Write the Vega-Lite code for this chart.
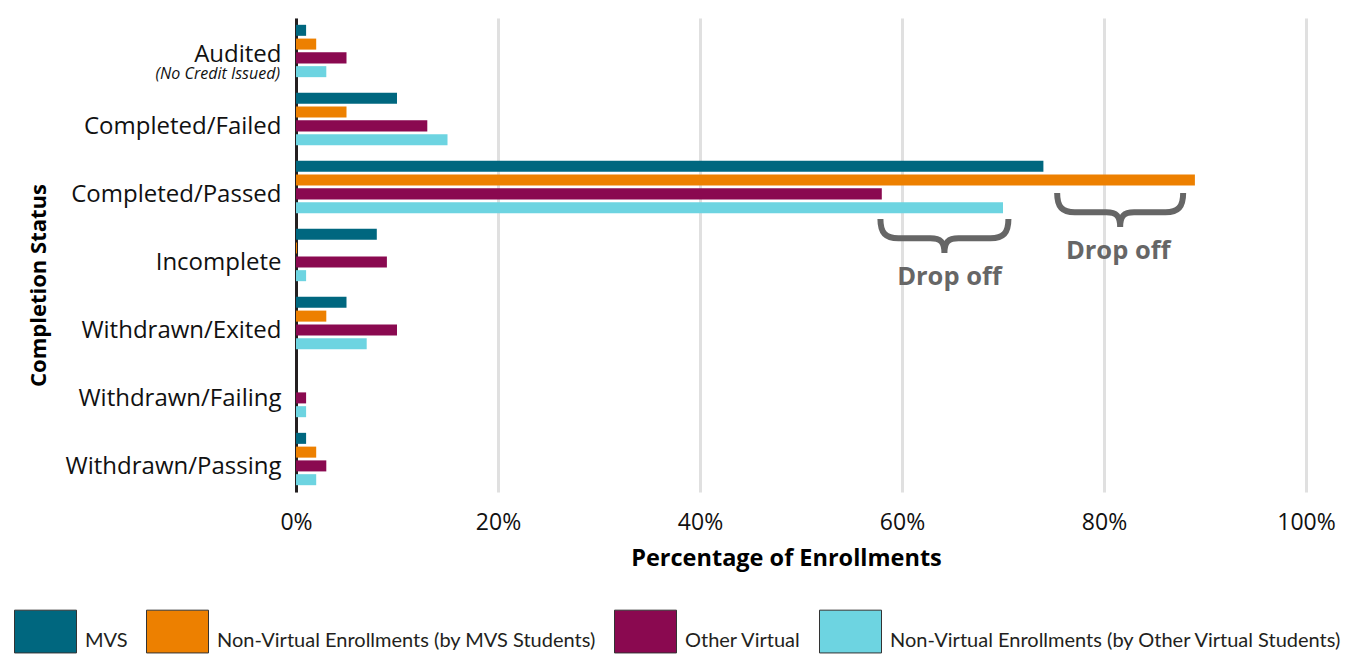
{
  "$schema": "https://vega.github.io/schema/vega-lite/v6.json",
  "width": 1010,
  "height": 474,
  "autosize": {"type": "none"},
  "padding": {"left": 296, "top": 18, "right": 45, "bottom": 163},
  "background": "white",
  "config": {
    "font": "Open Sans",
    "view": {"stroke": null}
  },
  "datasets": {
    "bars": [
      {"status": "Audited", "series": "MVS", "value": 1},
      {"status": "Audited", "series": "Non-Virtual Enrollments (by MVS Students)", "value": 2},
      {"status": "Audited", "series": "Other Virtual", "value": 5},
      {"status": "Audited", "series": "Non-Virtual Enrollments (by Other Virtual Students)", "value": 3},
      {"status": "Completed/Failed", "series": "MVS", "value": 10},
      {"status": "Completed/Failed", "series": "Non-Virtual Enrollments (by MVS Students)", "value": 5},
      {"status": "Completed/Failed", "series": "Other Virtual", "value": 13},
      {"status": "Completed/Failed", "series": "Non-Virtual Enrollments (by Other Virtual Students)", "value": 15},
      {"status": "Completed/Passed", "series": "MVS", "value": 74},
      {"status": "Completed/Passed", "series": "Non-Virtual Enrollments (by MVS Students)", "value": 89},
      {"status": "Completed/Passed", "series": "Other Virtual", "value": 58},
      {"status": "Completed/Passed", "series": "Non-Virtual Enrollments (by Other Virtual Students)", "value": 70},
      {"status": "Incomplete", "series": "MVS", "value": 8},
      {"status": "Incomplete", "series": "Non-Virtual Enrollments (by MVS Students)", "value": 0.1},
      {"status": "Incomplete", "series": "Other Virtual", "value": 9},
      {"status": "Incomplete", "series": "Non-Virtual Enrollments (by Other Virtual Students)", "value": 1},
      {"status": "Withdrawn/Exited", "series": "MVS", "value": 5},
      {"status": "Withdrawn/Exited", "series": "Non-Virtual Enrollments (by MVS Students)", "value": 3},
      {"status": "Withdrawn/Exited", "series": "Other Virtual", "value": 10},
      {"status": "Withdrawn/Exited", "series": "Non-Virtual Enrollments (by Other Virtual Students)", "value": 7},
      {"status": "Withdrawn/Failing", "series": "MVS", "value": 0},
      {"status": "Withdrawn/Failing", "series": "Non-Virtual Enrollments (by MVS Students)", "value": 0},
      {"status": "Withdrawn/Failing", "series": "Other Virtual", "value": 1},
      {"status": "Withdrawn/Failing", "series": "Non-Virtual Enrollments (by Other Virtual Students)", "value": 1},
      {"status": "Withdrawn/Passing", "series": "MVS", "value": 1},
      {"status": "Withdrawn/Passing", "series": "Non-Virtual Enrollments (by MVS Students)", "value": 2},
      {"status": "Withdrawn/Passing", "series": "Other Virtual", "value": 3},
      {"status": "Withdrawn/Passing", "series": "Non-Virtual Enrollments (by Other Virtual Students)", "value": 2}
    ],
    "notes": [
      {"status": "Completed/Passed", "pos": 64.2, "id": "a", "note": "Drop off"},
      {"status": "Completed/Passed", "pos": 81.6, "id": "b", "note": "Drop off"}
    ],
    "sub": [
      {"status": "Audited", "pos": 0, "note": "(No Credit Issued)"}
    ]
  },
  "layer": [
    {
      "data": {"name": "bars"},
      "mark": {"type": "bar"},
      "encoding": {
        "y": {
          "field": "status", "type": "nominal",
          "scale": {
            "domain": ["Audited", "Completed/Failed", "Completed/Passed", "Incomplete", "Withdrawn/Exited", "Withdrawn/Failing", "Withdrawn/Passing"],
            "paddingInner": 0.23, "paddingOuter": 0.1
          },
          "axis": {
            "title": "Completion Status",
            "titleFontSize": 22, "titleFontWeight": "bold", "titleColor": "#000",
            "titleX": -258, "titleY": 267, "titleAngle": -90, "titleAlign": "center", "titleBaseline": "middle",
            "labelFontSize": 24, "labelColor": "#111", "labelPadding": 15,
            "labelOffset": {"condition": {"test": "datum.value === 'Audited'", "value": 4}, "value": 8},
            "ticks": false, "domainColor": "#231f20", "domainWidth": 3, "labelLimit": 300, "grid": false
          }
        },
        "yOffset": {
          "field": "series", "type": "nominal",
          "scale": {
            "domain": ["MVS", "Non-Virtual Enrollments (by MVS Students)", "Other Virtual", "Non-Virtual Enrollments (by Other Virtual Students)"],
            "paddingInner": 0.2, "paddingOuter": 0
          }
        },
        "x": {
          "field": "value", "type": "quantitative",
          "scale": {"domain": [0, 100], "nice": false},
          "axis": {
            "values": [0, 20, 40, 60, 80, 100],
            "labelExpr": "datum.value + '%'",
            "grid": true, "gridColor": "#e0e0e0", "gridWidth": 3,
            "domain": false, "ticks": false,
            "labelFontSize": 23, "labelColor": "#111", "labelPadding": 19, "labelFlush": false,
            "title": "Percentage of Enrollments", "titleFontSize": 23.5, "titleFontWeight": "bold", "titleColor": "#000",
            "titlePadding": 12, "titleX": 490
          }
        },
        "color": {
          "field": "series", "type": "nominal",
          "scale": {
            "domain": ["MVS", "Non-Virtual Enrollments (by MVS Students)", "Other Virtual", "Non-Virtual Enrollments (by Other Virtual Students)"],
            "range": ["#00677F", "#ED8000", "#8A0950", "#6DD4E1"]
          },
          "legend": {
            "orient": "none", "legendX": -282, "legendY": 591,
            "direction": "horizontal", "columns": 4, "title": null,
            "symbolType": "M-1,-0.98H1V0.4H-1Z", "symbolSize": 3844,
            "symbolStrokeColor": "#333", "symbolStrokeWidth": 1, "symbolOpacity": 1,
            "labelFontSize": 20, "labelFont": "Lato", "labelColor": "#231f20",
            "labelOffset": 8, "columnPadding": 16, "padding": 0, "labelLimit": 600,
            "encode": {"symbols": {"update": {"stroke": {"value": "#333"}, "strokeWidth": {"value": 1}}}}
          }
        }
      }
    },
    {
      "data": {"name": "notes"},
      "transform": [{"filter": "datum.id === 'a'"}],
      "mark": {"type": "point", "filled": false, "stroke": "#666666", "strokeWidth": 6, "opacity": 1, "size": 16384,
        "shape": "M-1,0.5C-1,0.72 -0.92,0.8 -0.72,0.8L-0.22,0.8C-0.06,0.8 0,0.86 0,1.03C0,0.86 0.06,0.8 0.22,0.8L0.72,0.8C0.92,0.8 1,0.72 1,0.5"},
      "encoding": {
        "x": {"field": "pos", "type": "quantitative"},
        "y": {"field": "status", "type": "nominal"}
      }
    },
    {
      "data": {"name": "notes"},
      "transform": [{"filter": "datum.id === 'b'"}],
      "mark": {"type": "point", "filled": false, "stroke": "#666666", "strokeWidth": 6, "opacity": 1, "size": 15876,
        "shape": "M-1,0.095C-1,0.32 -0.92,0.4 -0.72,0.4L-0.22,0.4C-0.06,0.4 0,0.46 0,0.635C0,0.46 0.06,0.4 0.22,0.4L0.72,0.4C0.92,0.4 1,0.32 1,0.095"},
      "encoding": {
        "x": {"field": "pos", "type": "quantitative"},
        "y": {"field": "status", "type": "nominal"}
      }
    },
    {
      "data": {"name": "notes"},
      "transform": [{"filter": "datum.id === 'a'"}],
      "mark": {"type": "text", "font": "Open Sans", "fontWeight": "bold", "fontSize": 25.5, "color": "#666666", "dy": 90, "dx": 5, "baseline": "middle"},
      "encoding": {
        "x": {"field": "pos", "type": "quantitative"},
        "y": {"field": "status", "type": "nominal"},
        "text": {"field": "note"}
      }
    },
    {
      "data": {"name": "notes"},
      "transform": [{"filter": "datum.id === 'b'"}],
      "mark": {"type": "text", "font": "Open Sans", "fontWeight": "bold", "fontSize": 25.5, "color": "#666666", "dy": 64, "dx": -2, "baseline": "middle"},
      "encoding": {
        "x": {"field": "pos", "type": "quantitative"},
        "y": {"field": "status", "type": "nominal"},
        "text": {"field": "note"}
      }
    },
    {
      "data": {"name": "sub"},
      "mark": {"type": "text", "font": "Open Sans", "fontStyle": "italic", "fontSize": 16, "color": "#111", "align": "right", "dx": -16, "dy": 23, "baseline": "middle"},
      "encoding": {
        "x": {"field": "pos", "type": "quantitative"},
        "y": {"field": "status", "type": "nominal"},
        "text": {"field": "note"}
      }
    }
  ]
}
